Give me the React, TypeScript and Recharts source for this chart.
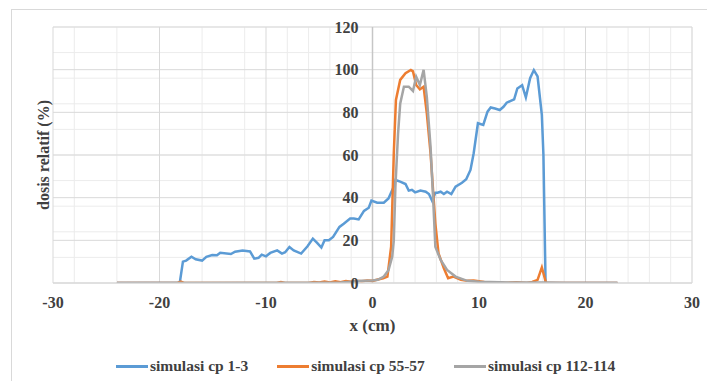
import { LineChart, Line, XAxis, YAxis, CartesianGrid, ReferenceLine, Legend } from 'recharts';

// x (cm) / dosis relatif (%)
const cp1X = [-24, -18.1, -17.8, -17.5, -17.0, -16.6, -16.0, -15.6, -15.05, -14.6, -14.3, -13.3, -12.9, -12.2, -11.5, -11.1, -10.7, -10.4, -10.0, -9.6, -8.95, -8.5, -8.2, -7.8, -7.4, -6.7, -6.1, -5.6, -5.2, -4.8, -4.5, -4.1, -3.7, -3.1, -2.7, -2.1, -1.75, -1.3, -0.8, -0.35, -0.1, 0.44, 1.06, 1.5, 2.0, 2.16, 2.6, 3.1, 3.4, 3.7, 4.0, 4.5, 5.0, 5.3, 5.6, 5.9, 6.1, 6.4, 6.7, 7.0, 7.4, 7.8, 8.4, 8.8, 9.2, 9.5, 9.9, 10.4, 10.8, 11.1, 11.5, 11.95, 12.3, 12.6, 13.3, 13.6, 14.05, 14.4, 14.8, 15.15, 15.5, 15.9, 16.05, 16.25, 23];
const cp1Y = [0, 0, 10, 10.5, 12.3, 11.1, 10.5, 12.3, 13.1, 13, 14.2, 13.6, 14.7, 15.2, 14.8, 11.4, 11.8, 13.3, 12.5, 14.1, 15.3, 13.8, 14.4, 16.9, 15.3, 13.8, 17.2, 20.8, 18.8, 16.6, 20, 20, 21.6, 26.3, 27.8, 30.2, 30.2, 29.8, 33.8, 35.3, 38.6, 37.6, 37.6, 39.6, 45.2, 48.3, 47.5, 46.4, 43.3, 43.7, 42.5, 43.3, 42.8, 41.7, 38.5, 42.3, 42.3, 42.8, 41.7, 42.8, 41.7, 45.2, 47, 48.6, 53, 60.8, 74.9, 74.1, 80.3, 82.3, 81.8, 81.1, 82.6, 84.5, 86.1, 91.2, 92.7, 87, 96, 99.8, 96.8, 78.8, 60, 0, 0];

const cp55X = [-24, -18.3, -18, -17.7, -9, -8.6, -8.2, -6, -5.5, -5, -4.5, -4, -3.5, -3, -2.5, -2, -1.5, -1, -0.5, 0, 0.5, 1.0, 1.4, 1.75, 2.0, 2.2, 2.6, 3.1, 3.6, 3.8, 4.1, 4.45, 4.8, 5.1, 5.45, 5.75, 5.9, 6.2, 6.7, 7.1, 7.6, 8.3, 8.9, 9.5, 10.5, 11.5, 12.5, 13.5, 14.5, 15.0, 15.5, 15.9, 16.3, 23];
const cp55Y = [0, 0, 0.7, 0, 0, 0.4, 0, 0, 0.5, 0.2, 0.7, 0.3, 0.8, 0.4, 0.9, 0.6, 1.0, 0.8, 1.2, 1.0, 1.6, 2.2, 3, 17, 60.8, 85.8, 95.2, 98.3, 99.9, 99.2, 92.8, 90.8, 92, 79.5, 60.9, 38.9, 28, 13.9, 6.9, 2.2, 3, 1.5, 1, 1.2, 0.5, 0.3, 0, 0.3, 0, 0.5, 1.5, 7.3, 0, 0];

const cp112X = [-24, -3, -2, -1, 0, 0.5, 1.06, 1.5, 1.85, 2.0, 2.15, 2.4, 2.6, 2.95, 3.4, 3.8, 4.1, 4.45, 4.8, 5.1, 5.45, 5.7, 5.9, 6.4, 7.0, 7.8, 8.9, 10, 12, 14, 16, 18, 23];
const cp112Y = [0, 0.2, 0.6, 1, 1.2, 1.5, 3, 6, 12.3, 20, 45, 70, 84, 92, 92, 90, 96.7, 92.8, 99.9, 87.3, 63.9, 38.9, 17, 10.8, 6.1, 3, 1, 0.6, 0.3, 0.2, 0.2, 0, 0];

const xTicks = [-30, -20, -10, 0, 10, 20, 30];
const yTicks = [0, 20, 40, 60, 80, 100, 120];
const xMinor = [-30, -28, -26, -24, -22, -20, -18, -16, -14, -12, -10, -8, -6, -4, -2, 0, 2, 4, 6, 8, 10, 12, 14, 16, 18, 20, 22, 24, 26, 28, 30];
const yMinor = [0, 4, 8, 12, 16, 20, 24, 28, 32, 36, 40, 44, 48, 52, 56, 60, 64, 68, 72, 76, 80, 84, 88, 92, 96, 100, 104, 108, 112, 116, 120];

const series = [
    { name: 'simulasi cp 1-3', xs: cp1X, ys: cp1Y, color: '#5B9BD5' },
    { name: 'simulasi cp 55-57', xs: cp55X, ys: cp55Y, color: '#ED7D31' },
    { name: 'simulasi cp 112-114', xs: cp112X, ys: cp112Y, color: '#A5A5A5' },
];

const W = 707;
const H = 381;
const M = { top: 27, right: 15, bottom: 48, left: 52 };
const XAXIS_H = 50;
const YAXIS_W = 1;
const plotLeft = M.left + YAXIS_W;
const plotW = W - plotLeft - M.right;
const plotBottom = H - M.bottom - XAXIS_H;
const X0 = plotLeft + (0 - -30) / 60 * plotW;
const FONT = '"Liberation Serif", "DejaVu Serif", serif';

const YTick = ({ y, payload }: any) => (
    <text x={X0 - 14} y={y} dy={5.5} textAnchor="end" fontFamily={FONT} fontWeight={700} fontSize={16} fill="#404040">
        {payload.value}
    </text>
);

const XTick = ({ x, payload }: any) => (
    <text x={x} y={plotBottom + 25} textAnchor="middle" fontFamily={FONT} fontWeight={700} fontSize={16} fill="#404040">
        {payload.value}
    </text>
);

const LegendContent = () => (
    <div style={{ display: 'flex', alignItems: 'center', gap: 29, paddingLeft: 116, fontFamily: FONT, fontWeight: 700, fontSize: 15.5, color: '#404040' }}>
        {series.map((s) => (
            <div key={s.name} style={{ display: 'flex', alignItems: 'center' }}>
                <span style={{ display: 'inline-block', width: 32, height: 3, background: s.color, marginRight: 2 }} />
                <span>{s.name}</span>
            </div>
        ))}
    </div>
);

export default function App() {
    return (
        <div style={{ position: 'absolute', left: 0, top: 0, width: W, height: H, background: '#fff', overflow: 'hidden' }}>
            <div style={{ position: 'absolute', left: 11, top: 9, width: 720, height: 400, border: '1px solid #d9d9d9' }} />
            <LineChart width={W} height={H} margin={M} style={{ position: 'absolute', left: 0, top: 0 }}>
                <CartesianGrid stroke="#ececec" verticalValues={xMinor} horizontalValues={yMinor} />
                <CartesianGrid stroke="#d9d9d9" verticalValues={xTicks} horizontalValues={yTicks} />
                <XAxis
                    type="number"
                    dataKey="x"
                    domain={[-30, 30]}
                    ticks={xTicks}
                    height={XAXIS_H}
                    tickLine={false}
                    axisLine={{ stroke: '#d9d9d9' }}
                    tick={<XTick />}
                    allowDataOverflow
                    label={{
                        content: () => (
                            <text x={X0} y={plotBottom + 48} textAnchor="middle" fontFamily={FONT} fontWeight={700} fontSize={17} fill="#404040">
                                x (cm)
                            </text>
                        ),
                    }}
                />
                <YAxis
                    type="number"
                    domain={[0, 120]}
                    ticks={yTicks}
                    width={YAXIS_W}
                    tickLine={false}
                    axisLine={false}
                    tick={<YTick />}
                    allowDataOverflow
                    label={{
                        content: () => (
                            <text
                                x={43}
                                y={(M.top + plotBottom) / 2}
                                transform={`rotate(-90 43 ${(M.top + plotBottom) / 2})`}
                                textAnchor="middle"
                                dominantBaseline="central"
                                fontFamily={FONT}
                                fontWeight={700}
                                fontSize={16}
                                fill="#404040"
                            >
                                dosis relatif (%)
                            </text>
                        ),
                    }}
                />
                <ReferenceLine x={0} stroke="#c6c6c6" strokeWidth={1.5} />
                {series.map((s) => (
                    <Line
                        key={s.name}
                        name={s.name}
                        data={s.xs.map((x, i) => ({ x, y: s.ys[i] }))}
                        dataKey="y"
                        type="linear"
                        stroke={s.color}
                        strokeWidth={2.5}
                        dot={false}
                        isAnimationActive={false}
                    />
                ))}
                <Legend
                    layout="horizontal"
                    verticalAlign="middle"
                    align="center"
                    content={<LegendContent />}
                    wrapperStyle={{ top: 357, left: 0, width: W }}
                />
            </LineChart>
        </div>
    );
}
